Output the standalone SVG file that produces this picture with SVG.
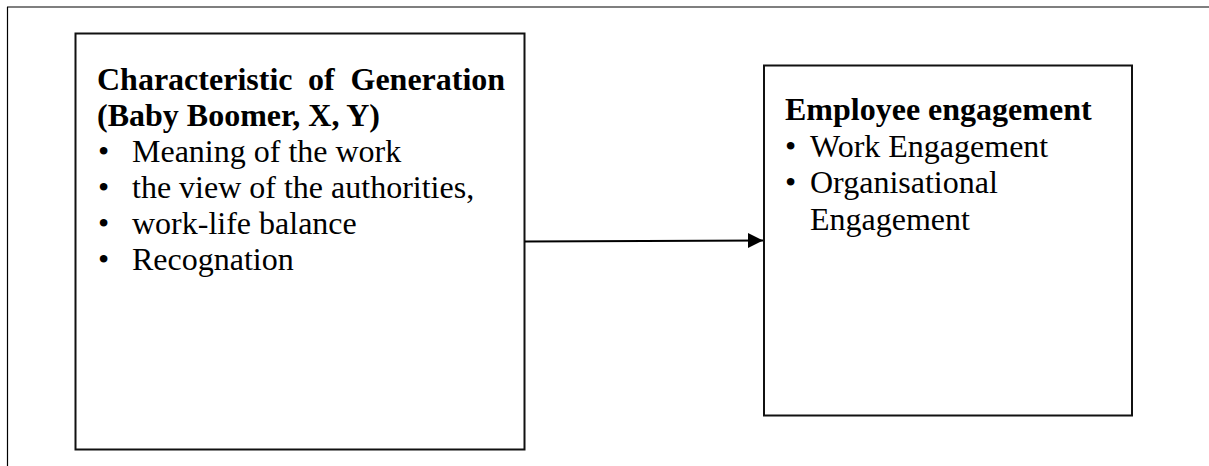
<svg xmlns="http://www.w3.org/2000/svg" width="1209" height="466" viewBox="0 0 1209 466">
  <style>
    .frame { fill: none; stroke: #000; stroke-width: 1.2; }
    .box { fill: #fff; stroke: #111; stroke-width: 2; }
    .title { font-family: "Liberation Serif", "Times New Roman", serif; font-weight: bold; font-size: 32px; fill: #000; }
    .item { font-family: "Liberation Serif", "Times New Roman", serif; font-size: 32px; fill: #000; }
    .conn { fill: none; stroke: #000; stroke-width: 2.2; }
  </style>
  <defs>
    <marker id="arrow" markerUnits="userSpaceOnUse" markerWidth="16" markerHeight="16" refX="15" refY="8" orient="auto">
      <path d="M0,0.5 L15,8 L0,15.5 Z" fill="#000"/>
    </marker>
  </defs>
  <rect width="1209" height="466" fill="#fff"/>
  <g id="frame">
    <line class="frame" x1="7" y1="7" x2="1209" y2="7"/>
    <line class="frame" x1="7.5" y1="7" x2="7.5" y2="466"/>
  </g>
  <g id="node-generation">
    <rect class="box" x="75.5" y="33.5" width="449" height="416"/>
    <text class="title" y="90"><tspan x="97">Characteristic</tspan><tspan x="308">of</tspan><tspan x="350.5">Generation</tspan></text>
    <text class="title" x="97" y="126">(Baby Boomer, X, Y)</text>
    <text class="item" x="98" y="162">•</text>
    <text class="item" x="132" y="162">Meaning of the work</text>
    <text class="item" x="98" y="198">•</text>
    <text class="item" x="132" y="198">the view of the authorities,</text>
    <text class="item" x="98" y="234">•</text>
    <text class="item" x="132" y="234">work-life balance</text>
    <text class="item" x="98" y="270">•</text>
    <text class="item" x="132" y="270">Recognation</text>
  </g>
  <g id="node-engagement">
    <rect class="box" x="764" y="65.5" width="368" height="350"/>
    <text class="title" x="785" y="120">Employee engagement</text>
    <text class="item" x="785" y="157">•</text>
    <text class="item" x="810" y="157">Work Engagement</text>
    <text class="item" x="785" y="193">•</text>
    <text class="item" x="810" y="193">Organisational</text>
    <text class="item" x="810" y="230">Engagement</text>
  </g>
  <g id="connectors">
    <line class="conn" x1="525" y1="241.5" x2="763" y2="240.5" marker-end="url(#arrow)"/>
  </g>
</svg>
